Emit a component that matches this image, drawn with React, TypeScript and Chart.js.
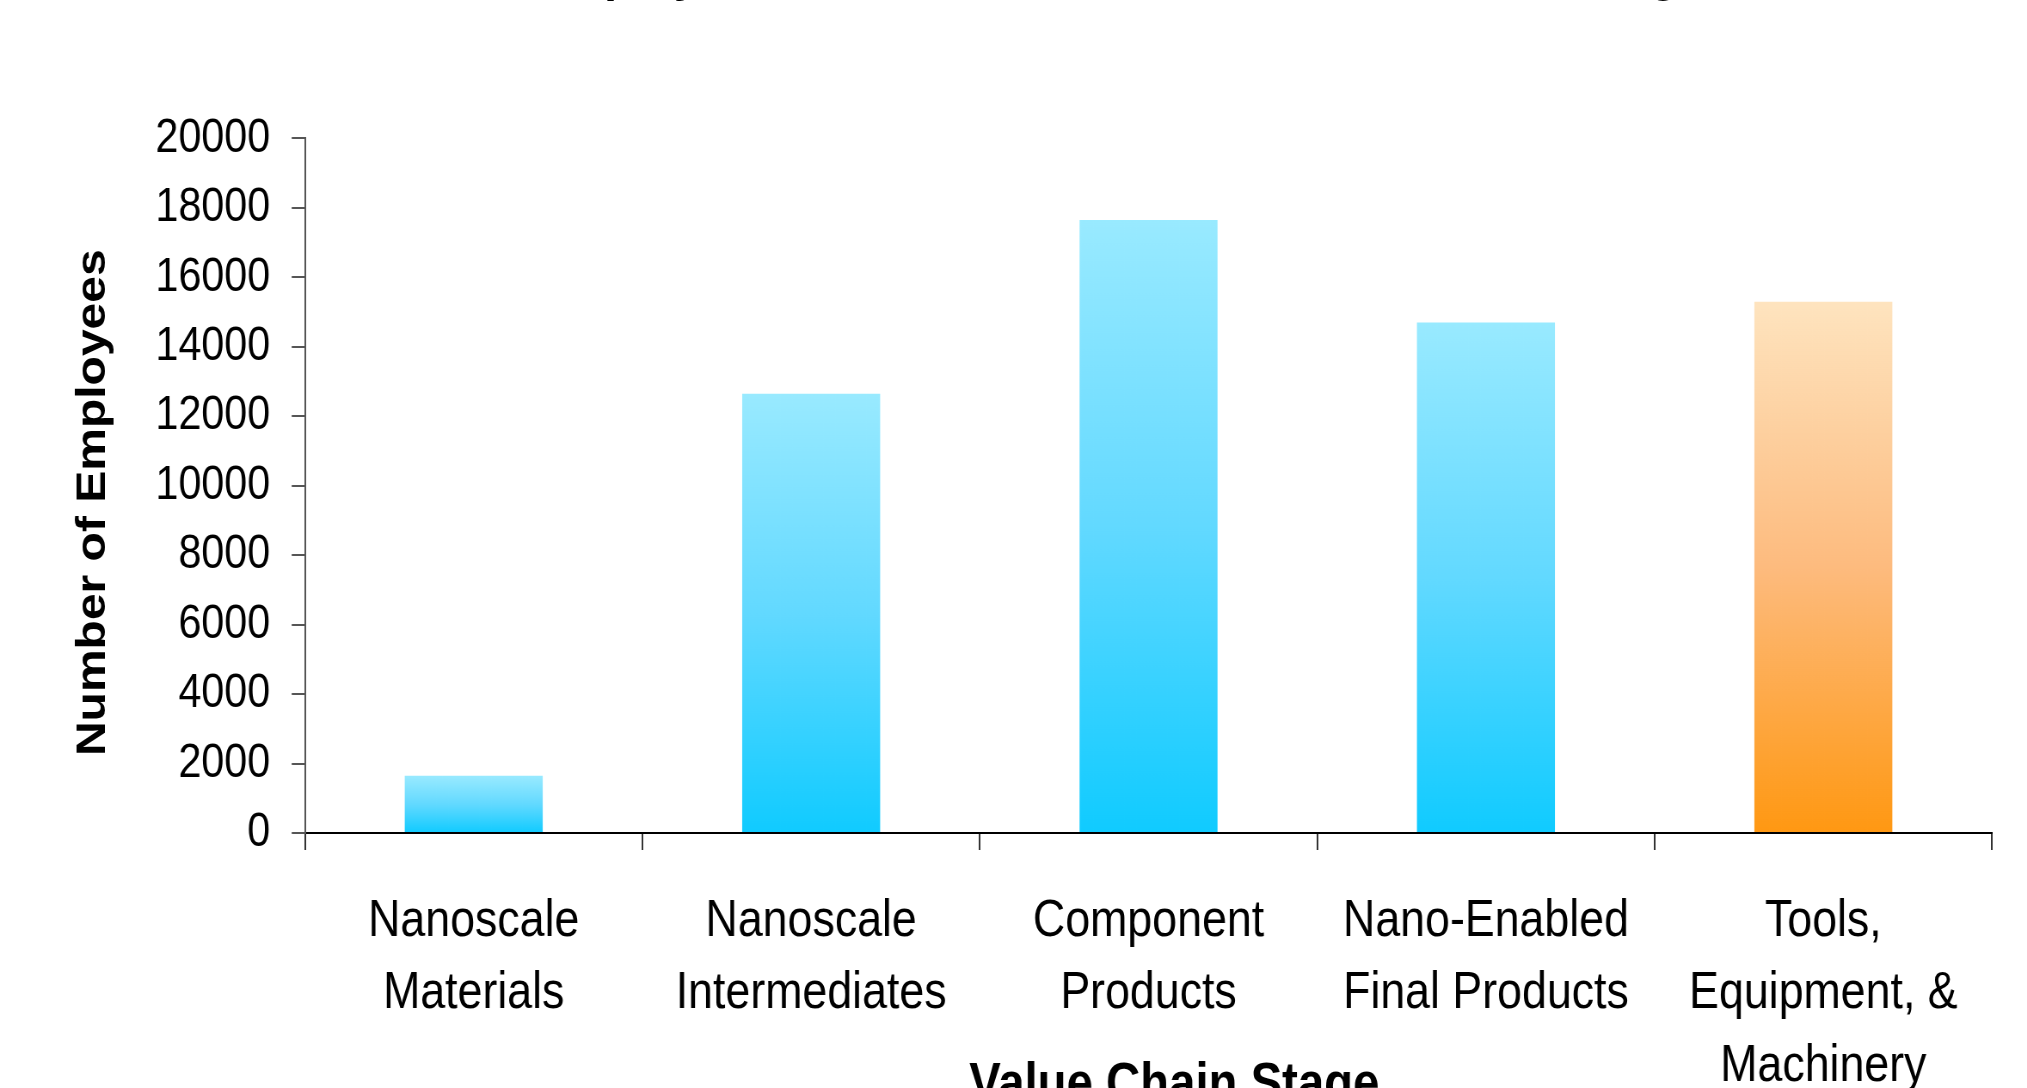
import React, { useEffect, useRef } from 'react';
import { Chart, registerables } from 'chart.js';

Chart.register(...registerables);

// ---- data ----
const chartTitle = 'Estimated Employment Across the Nanotech Value Chain Stages';
const xAxisTitle = 'Value Chain Stage';
const yAxisTitle = 'Number of Employees';
const categories: string[][] = [
  ['Nanoscale', 'Materials'],
  ['Nanoscale', 'Intermediates'],
  ['Component', 'Products'],
  ['Nano-Enabled', 'Final Products'],
  ['Tools,', 'Equipment, &', 'Machinery'],
];
const employees: number[] = [1650, 12650, 17650, 14700, 15300];
const yMin = 0;
const yMax = 20000;
const yStep = 2000;

// ---- styles / layout ----
const FONT = '"Liberation Sans", Arial, sans-serif';
const SX = 0.86; // horizontal condensation of the whole picture
const VIEW_W = 2027;
const VIEW_H = 1088;
const CANVAS_W = VIEW_W / SX;
const CANVAS_H = 1200;
const TOP = -67;
const X_TITLE_SHIFT = { dx: 30, dy: 4 };
const Y_TITLE_SHIFT = { dx: 0, dy: 17 };

const BLUE_STOPS: [number, string][] = [
  [0, '#99EAFF'],
  [0.5, '#62D9FF'],
  [1, '#10CBFF'],
];
const ORANGE_STOPS: [number, string][] = [
  [0, '#FEE4BF'],
  [0.5, '#FDBB7E'],
  [1, '#FF9812'],
];

function barFill(ctx: any) {
  const chart = ctx.chart;
  const stops = ctx.dataIndex === categories.length - 1 ? ORANGE_STOPS : BLUE_STOPS;
  const yScale = chart.scales && chart.scales.y;
  if (!chart.chartArea || !yScale || ctx.type !== 'data') return stops[stops.length - 1][1];
  const top = yScale.getPixelForValue(ctx.raw);
  const bottom = yScale.getPixelForValue(0);
  if (!isFinite(top) || !isFinite(bottom) || top === bottom) return stops[stops.length - 1][1];
  const g = chart.ctx.createLinearGradient(0, top, 0, bottom);
  stops.forEach(([o, c]) => g.addColorStop(o, c));
  return g;
}

// Axis titles drawn relative to their scales (with small offsets as in the original layout)
const axisTitlesPlugin = {
  id: 'axisTitles',
  afterDraw(chart: any) {
    const { ctx } = chart;
    const x = chart.scales.x;
    const y = chart.scales.y;
    ctx.save();
    ctx.fillStyle = '#000';
    ctx.textAlign = 'center';
    ctx.textBaseline = 'middle';
    // x title
    ctx.font = `bold 55px ${FONT}`;
    ctx.fillText(xAxisTitle, (x.left + x.right) / 2 + X_TITLE_SHIFT.dx, x.bottom - 33 - 17.7 + X_TITLE_SHIFT.dy);
    // y title
    ctx.font = `bold 48px ${FONT}`;
    ctx.translate(y.left + 28.8 + 39.5 + Y_TITLE_SHIFT.dx, (y.top + y.bottom) / 2 + Y_TITLE_SHIFT.dy);
    ctx.rotate(-Math.PI / 2);
    ctx.fillText(yAxisTitle, 0, 0);
    ctx.restore();
  },
};

export default function App() {
  const ref = useRef<HTMLCanvasElement>(null);

  useEffect(() => {
    const canvas = ref.current;
    if (!canvas) return;
    const chart = new Chart(canvas, {
      type: 'bar',
      data: {
        labels: categories,
        datasets: [
          {
            data: employees,
            backgroundColor: barFill,
            borderWidth: 0,
            barPercentage: 0.409,
            categoryPercentage: 1,
          },
        ],
      },
      plugins: [axisTitlesPlugin],
      options: {
        animation: false,
        responsive: true,
        maintainAspectRatio: false,
        layout: { padding: { left: 40, right: 40.7, top: 0, bottom: 0 } },
        plugins: {
          legend: { display: false },
          tooltip: { enabled: false },
          title: {
            display: true,
            text: chartTitle,
            color: '#000',
            font: { family: FONT, size: 54, weight: 'bold', lineHeight: 1.2 },
            padding: { top: 10, bottom: 130.6 },
          },
        },
        scales: {
          x: {
            grid: {
              drawOnChartArea: false,
              tickLength: 17,
              color: '#333',
              lineWidth: 2,
              offset: true,
            },
            border: { color: '#000', width: 2 },
            ticks: {
              color: '#000',
              font: { family: FONT, size: 52, lineHeight: 72.5 / 52 },
              padding: 35,
              maxRotation: 0,
              minRotation: 0,
              autoSkip: false,
            },
            title: { display: false, text: xAxisTitle },
            afterFit: (s: any) => {
              s.height = 300;
            },
          },
          y: {
            min: yMin,
            max: yMax,
            ticks: {
              stepSize: yStep,
              color: '#000',
              font: { family: FONT, size: 48 },
              padding: 25,
              callback: (v: any) => String(v),
            },
            grid: {
              drawOnChartArea: false,
              tickLength: 15.5,
              color: '#555',
              lineWidth: 2,
            },
            border: { color: '#555', width: 2 },
            title: { display: false, text: yAxisTitle },
            afterFit: (s: any) => {
              s.width = 314.7;
            },
          },
        },
      },
    });
    return () => chart.destroy();
  }, []);

  return (
    <div
      style={{
        position: 'fixed',
        left: 0,
        top: 0,
        width: VIEW_W,
        height: VIEW_H,
        overflow: 'hidden',
        background: '#fff',
      }}
    >
      <div
        style={{
          position: 'absolute',
          left: 0,
          top: TOP,
          width: CANVAS_W,
          height: CANVAS_H,
          transform: `scaleX(${SX})`,
          transformOrigin: '0 0',
        }}
      >
        <canvas ref={ref} />
      </div>
    </div>
  );
}
